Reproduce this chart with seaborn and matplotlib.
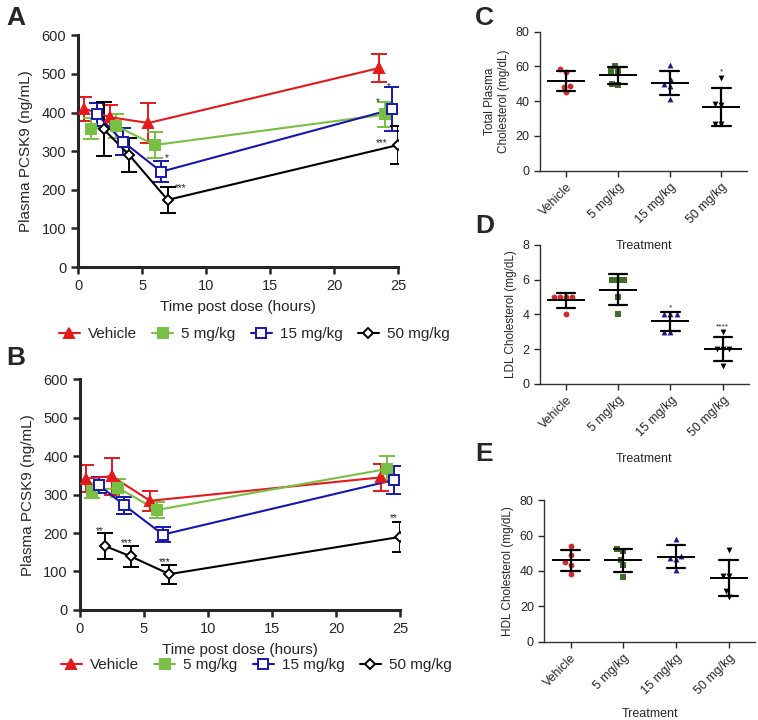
import numpy as np
import pandas as pd
import seaborn as sns
import matplotlib.pyplot as plt
from matplotlib.lines import Line2D

# ---- time course data (mean and SD, ng/mL) ----
groups = ["Vehicle", "5 mg/kg", "15 mg/kg", "50 mg/kg"]
times = {
    "Vehicle": [0.5, 2.5, 5.5, 23.5],
    "5 mg/kg": [1.0, 3.0, 6.0, 24.0],
    "15 mg/kg": [1.5, 3.5, 6.5, 24.5],
    "50 mg/kg": [2.0, 4.0, 7.0, 25.0],
}
mean_A = {
    "Vehicle": [410, 388, 373, 515],
    "5 mg/kg": [358, 365, 316, 395],
    "15 mg/kg": [395, 325, 247, 408],
    "50 mg/kg": [357, 290, 174, 316],
}
sd_A = {
    "Vehicle": [31, 31, 51, 37],
    "5 mg/kg": [27, 30, 33, 32],
    "15 mg/kg": [30, 35, 28, 57],
    "50 mg/kg": [70, 44, 34, 48],
}
mean_B = {
    "Vehicle": [342, 348, 284, 345],
    "5 mg/kg": [310, 318, 260, 367],
    "15 mg/kg": [325, 272, 196, 338],
    "50 mg/kg": [166, 139, 93, 190],
}
sd_B = {
    "Vehicle": [36, 48, 26, 36],
    "5 mg/kg": [20, 23, 20, 34],
    "15 mg/kg": [21, 22, 19, 36],
    "50 mg/kg": [34, 27, 25, 40],
}
stars_A = [("*", 6.9, 283), ("***", 8.0, 205), ("*", 23.4, 428), ("*", 24.3, 466), ("***", 23.7, 322)]
stars_B = [("**", 1.6, 205), ("***", 3.7, 175), ("***", 6.6, 125), ("**", 24.5, 238)]

# ---- individual animals (mg/dL) ----
total_chol = {
    "Vehicle": [58.3, 57.0, 49.0, 48.2, 45.0],
    "5 mg/kg": [60.3, 57.4, 57.4, 49.9, 49.1],
    "15 mg/kg": [60.8, 52.0, 50.0, 48.7, 41.0],
    "50 mg/kg": [53.5, 38.4, 37.8, 26.7, 26.7],
}
ldl_chol = {
    "Vehicle": [5, 5, 5, 5, 4],
    "5 mg/kg": [6, 6, 6, 5, 4],
    "15 mg/kg": [4, 4, 4, 3, 3],
    "50 mg/kg": [3, 2, 2, 2, 1],
}
hdl_chol = {
    "Vehicle": [54.4, 49.1, 44.8, 43.3, 38.2],
    "5 mg/kg": [52.4, 51.4, 46.3, 43.3, 36.5],
    "15 mg/kg": [58.0, 48.2, 47.6, 46.7, 40.3],
    "50 mg/kg": [51.6, 37.4, 37.0, 28.4, 25.5],
}
stars_C = [("*", 3, 57)]
stars_D = [("*", 2, 4.35), ("****", 3, 3.3)]

line_colors = {"Vehicle": "#e3191c", "5 mg/kg": "#78c043", "15 mg/kg": "#1717b0", "50 mg/kg": "#000000"}
dot_colors = {"Vehicle": "#d42a2a", "5 mg/kg": "#3f6e2c", "15 mg/kg": "#1c1c80", "50 mg/kg": "#000000"}
line_markers = {"Vehicle": "^", "5 mg/kg": "s", "15 mg/kg": "s", "50 mg/kg": "D"}
marker_face = {"Vehicle": "#e3191c", "5 mg/kg": "#78c043", "15 mg/kg": "white", "50 mg/kg": "white"}
marker_size = {"Vehicle": 6.5, "5 mg/kg": 6.5, "15 mg/kg": 7, "50 mg/kg": 5.2}
dot_markers = {"Vehicle": "o", "5 mg/kg": "s", "15 mg/kg": "^", "50 mg/kg": "v"}

sns.set_style("ticks")
plt.rcParams["font.family"] = ["Liberation Sans", "DejaVu Sans"]

fig = plt.figure(figsize=(7.58, 7.2), dpi=100)


def time_panel(ax, means, sds, stars, legend_y):
    rows = []
    for g in groups:
        for t, m in zip(times[g], means[g]):
            rows.append({"group": g, "time": t, "value": m})
    df = pd.DataFrame(rows)
    for g in groups:
        ax.errorbar(times[g], means[g], yerr=sds[g], fmt="none", ecolor=line_colors[g],
                    elinewidth=1.4, capsize=6, capthick=1.4, zorder=2)
    sns.lineplot(data=df, x="time", y="value", hue="group", hue_order=groups,
                 palette=line_colors, linewidth=1.5, legend=False, ax=ax, zorder=3)
    for g in groups:
        ax.plot(times[g], means[g], linestyle="none", marker=line_markers[g],
                markersize=marker_size[g], markerfacecolor=marker_face[g],
                markeredgecolor=line_colors[g], markeredgewidth=1.4, zorder=4)
    for s, x, y in stars:
        ax.text(x, y, s, ha="center", va="center", fontsize=7)
    ax.set_xlim(0, 25)
    ax.set_ylim(0, 600)
    ax.set_xticks([0, 5, 10, 15, 20, 25])
    ax.set_yticks(range(0, 601, 100))
    ax.set_xlabel("Time post dose (hours)", fontsize=11, labelpad=5)
    ax.set_ylabel("Plasma PCSK9 (ng/mL)", fontsize=11, labelpad=6)
    ax.tick_params(labelsize=10.5, width=1.8, length=5)
    for sp in ["left", "bottom"]:
        ax.spines[sp].set_linewidth(2.2)
    sns.despine(ax=ax)
    ax.set_facecolor("none")
    handles = [Line2D([0], [0], color=line_colors[g], marker=line_markers[g],
                      markerfacecolor=marker_face[g], markeredgecolor=line_colors[g],
                      markersize=marker_size[g], markeredgewidth=1.4, lw=1.5)
               for g in groups]
    ax.legend(handles, groups, loc="upper center", bbox_to_anchor=(0.55, legend_y), ncol=4,
              frameon=False, fontsize=11, handlelength=1.4, columnspacing=1.0, handletextpad=0.5)


def dot_panel(ax, data, ylabel, ymax, ystep, stars, xlabel_pad):
    rows = []
    for g in groups:
        for v in data[g]:
            rows.append({"group": g, "value": v})
    df = pd.DataFrame(rows)
    for g in groups:
        sub = df[df.group == g]
        sns.swarmplot(data=sub, x="group", y="value", order=groups, color=dot_colors[g],
                      marker=dot_markers[g], size=4.2, ax=ax, zorder=3)
    sns.pointplot(data=df, x="group", y="value", order=groups, errorbar="sd", color="black",
                  markers="_", linestyles="none", capsize=0.35, markersize=27,
                  markeredgewidth=1.4, err_kws={"linewidth": 1.6}, ax=ax, zorder=4)
    for s, x, y in stars:
        ax.text(x, y, s, ha="center", va="center", fontsize=6)
    ax.set_xlim(-0.5, 3.5)
    ax.set_ylim(0, ymax)
    ax.set_yticks(np.arange(0, ymax + ystep / 2, ystep))
    ax.set_xlabel("Treatment", fontsize=9, labelpad=xlabel_pad)
    ax.set_ylabel(ylabel, fontsize=8.5, labelpad=4)
    ax.tick_params(labelsize=9, width=1.0, length=4)
    plt.setp(ax.get_xticklabels(), rotation=45, ha="right", rotation_mode="anchor")
    for sp in ["left", "bottom"]:
        ax.spines[sp].set_linewidth(1.0)
        ax.spines[sp].set_color("#333333")
    sns.despine(ax=ax)
    ax.set_facecolor("none")


axA = fig.add_axes([0.103, 0.629, 0.422, 0.322])
time_panel(axA, mean_A, sd_A, stars_A, -0.2)
axB = fig.add_axes([0.105, 0.153, 0.423, 0.320])
time_panel(axB, mean_B, sd_B, stars_B, -0.15)

axC = fig.add_axes([0.712, 0.763, 0.274, 0.193])
dot_panel(axC, total_chol, "Total Plasma\nCholesterol (mg/dL)", 80, 20, stars_C, 10)
axD = fig.add_axes([0.712, 0.467, 0.276, 0.193])
dot_panel(axD, ldl_chol, "LDL Cholesterol (mg/dL)", 8, 2, stars_D, 10)
axE = fig.add_axes([0.718, 0.109, 0.278, 0.196])
dot_panel(axE, hdl_chol, "HDL Cholesterol (mg/dL)", 80, 20, [], 8)

for lab, x, y in [("A", 0.008, 0.975), ("B", 0.008, 0.503), ("C", 0.627, 0.975),
                  ("D", 0.627, 0.686), ("E", 0.627, 0.369)]:
    fig.text(x, y, lab, fontsize=19, fontweight="bold", va="center", ha="left")

fig.savefig("out.png", dpi=100)
